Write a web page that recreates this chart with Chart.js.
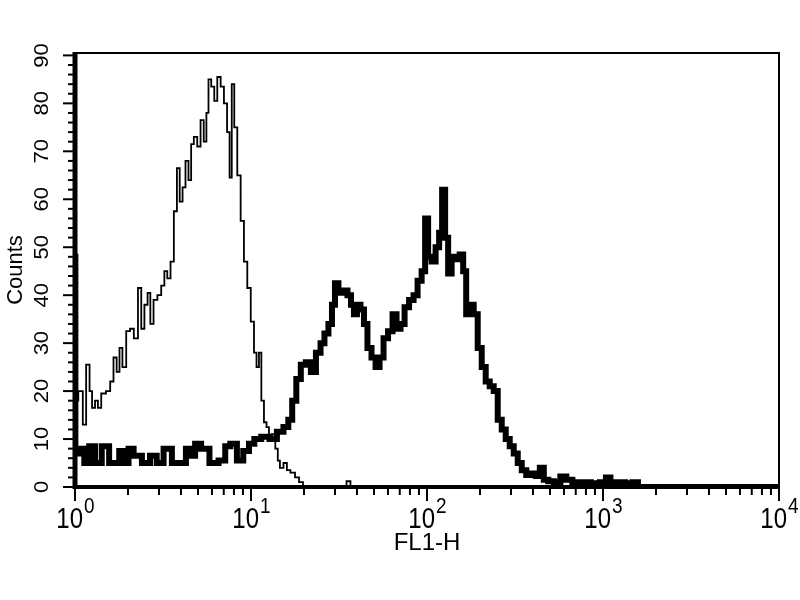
<!DOCTYPE html>
<html lang="en">

<head>
  <meta charset="UTF-8">
  <title>FL1-H histogram</title>
  <script src="https://cdn.jsdelivr.net/npm/chart.js"></script>
  <style>
    body { margin: 0; background: #fff; }
    canvas { display: block; }
  </style>
</head>

<body>
  <canvas id="histChart" width="800" height="600"></canvas>

<script>
  // control (thin line): FL1-H value / counts
  const controlFl1 = [1.00, 1.09, 1.125, 1.19, 1.23, 1.27, 1.33, 1.37, 1.45, 1.55, 1.62, 1.69, 1.76, 1.82, 1.90,
    2.01, 2.10, 2.22, 2.34, 2.42, 2.54, 2.63, 2.73, 2.86, 3.02, 3.16, 3.28, 3.41, 3.57, 3.72, 3.87, 4.00, 4.17,
    4.32, 4.51, 4.63, 4.84, 5.06, 5.28, 5.50, 5.66, 5.81, 6.08, 6.29, 6.58, 6.87, 7.17, 7.46, 7.65, 7.90, 8.17,
    8.55, 8.92, 9.32, 9.74, 10.2, 10.6, 10.9, 11.3, 11.6, 12.1, 12.4, 12.9, 13.4, 14.1, 14.3, 14.9, 15.7, 16.3,
    17.2, 18.4, 19.1, 20.4, 34.0, 35.8, 37.7, 10000];
  const controlCounts = [18, 20, 13, 25.5, 20, 16.5, 18, 16.5, 19.5, 20, 22, 27, 24, 29, 25,
    32.5, 33, 31, 41.5, 33, 38, 40.5, 34, 39, 40, 42, 45, 43.5, 47, 57.5, 66.5, 59.5, 62.5,
    68, 64, 71.5, 73, 71, 76.5, 72, 78, 85, 83.5, 80.5, 85.5, 83.5, 80, 74, 64.5, 84, 75,
    65, 55.5, 47, 41.5, 34.5, 28, 25, 28, 18, 13.5, 12.5, 10, 11, 8, 5.5, 4, 5, 3.5,
    3, 2, 1, 0, 0, 1.2, 0, 0];

  // stained sample (thick line)
  const stainedFl1 = [1.00, 1.01, 1.04, 1.09, 1.17, 1.24, 1.36, 1.48, 1.65, 1.73, 1.84, 1.97, 2.06, 2.25, 2.56,
    2.78, 3.05, 3.33, 3.79, 4.13, 4.41, 4.70, 4.93, 5.50, 6.13, 6.98, 7.30, 7.96, 8.69, 9.40, 10.1, 10.8, 12.1,
    13.4, 14.7, 15.9, 16.7, 17.6, 18.6, 19.8, 21.2, 22.6, 24.2, 25.5, 26.8, 28.3, 29.4, 30.6, 32.2, 34.4, 36.3,
    37.7, 39.2, 40.8, 43.0, 44.7, 47.1, 49.7, 52.4, 55.2, 58.1, 62.1, 65.4, 68.9, 72.6, 76.6, 81.7, 86.1, 90.8,
    95.7, 99.5, 103.5, 109, 114.9, 119.5, 124.3, 129.3, 134.5, 141.7, 149.4, 157.4, 163.7, 170.3, 179.5, 189.1,
    199.3, 210, 221.3, 233.2, 245.7, 259, 272.9, 287.5, 303, 319.3, 336.5, 354.6, 378.7, 404.3, 426.1, 449.1,
    473.2, 505.4, 546.7, 599.2, 639.7, 701.2, 799.1, 911, 1012, 1067, 1139, 1265, 1404, 1539, 1622, 10000];
  const stainedCounts = [48, 7, 7, 8, 5, 8.5, 5, 8.5, 5, 5, 7.5, 5, 8, 6.5, 5,
    6.5, 5, 8, 5, 5, 8, 6.5, 9, 8, 5, 5.5, 8.5, 9, 5.5, 7.5, 9, 10, 10.5,
    10, 11.5, 12.5, 14, 18, 22.5, 25.5, 26, 24, 28, 30, 32, 34, 38, 42.5, 40.5, 41, 40,
    38, 36, 38, 37, 34, 29, 27, 25, 27, 31, 32.5, 36, 33, 34, 37.5, 39, 40, 43,
    45, 56, 48, 47, 50, 53, 62, 52, 44.5, 48, 47.5, 48.5, 45, 36, 38, 36,
    29, 25, 22, 21, 20, 14, 12, 10, 8.5, 7, 5, 3.5, 2.5, 2.8, 2.3, 4,
    1.5, 1.2, 1, 2.2, 1.5, 1, 1, 0.8, 1, 2, 1, 1, 0.8, 1, 0, 0];

  const decadeLabels = ['0', '1', '2', '3', '4'];
  const countTicks = [0, 10, 20, 30, 40, 50, 60, 70, 80, 90];

  const fontFamily = '"Liberation Sans", Arial, sans-serif';

  function toPoints(xs, ys) {
    return xs.map((x, i) => ({ x: x, y: ys[i] }));
  }

  // frame, tick marks and tick labels, drawn from the chart's own scales
  const facsAxes = {
    id: 'facsAxes',
    afterDraw(chart) {
      const { ctx, chartArea: a, scales } = chart;
      const x = scales.x, y = scales.y;
      ctx.save();
      ctx.strokeStyle = '#000';
      ctx.fillStyle = '#000';
      ctx.lineCap = 'butt';

      ctx.lineWidth = 2;
      ctx.beginPath();
      ctx.moveTo(a.left, a.top);
      ctx.lineTo(a.right, a.top);
      ctx.lineTo(a.right, a.bottom);
      ctx.stroke();

      ctx.lineWidth = 5;
      ctx.beginPath();
      ctx.moveTo(a.left, a.top - 1);
      ctx.lineTo(a.left, a.bottom + 2);
      ctx.stroke();
      ctx.lineWidth = 4;
      ctx.beginPath();
      ctx.moveTo(a.left - 2, a.bottom);
      ctx.lineTo(a.right + 1, a.bottom);
      ctx.stroke();

      // y ticks every 2 counts, long ones every 10
      ctx.lineWidth = 2;
      for (let v = 0; v <= 90; v += 2) {
        const py = y.getPixelForValue(v);
        const len = v % 10 === 0 ? 10 : 5;
        ctx.beginPath();
        ctx.moveTo(a.left - 2, py);
        ctx.lineTo(a.left - 2 - len, py);
        ctx.stroke();
      }

      // x ticks at 1..9 of each decade
      for (let d = 0; d < 4; d++) {
        for (let k = 1; k <= 9; k++) {
          const px = x.getPixelForValue(k * Math.pow(10, d));
          const len = k === 1 ? 12 : 6;
          ctx.beginPath();
          ctx.moveTo(px, a.bottom + 2);
          ctx.lineTo(px, a.bottom + 2 + len);
          ctx.stroke();
        }
      }
      const pEnd = x.getPixelForValue(10000);
      ctx.beginPath();
      ctx.moveTo(pEnd, a.bottom + 2);
      ctx.lineTo(pEnd, a.bottom + 14);
      ctx.stroke();

      // y labels, rotated
      ctx.font = '20px ' + fontFamily;
      ctx.textAlign = 'center';
      ctx.textBaseline = 'middle';
      countTicks.forEach(v => {
        const py = y.getPixelForValue(v);
        ctx.save();
        ctx.translate(42, py);
        ctx.rotate(-Math.PI / 2);
        ctx.scale(1.1, 1);
        ctx.fillText(String(v), 0, 0);
        ctx.restore();
      });

      // x labels 10 with superscript exponent (type is a bit tall, like the source plot)
      ctx.textAlign = 'left';
      ctx.textBaseline = 'alphabetic';
      decadeLabels.forEach((e, i) => {
        const px = x.getPixelForValue(Math.pow(10, i));
        ctx.font = '24px ' + fontFamily;
        const wBase = ctx.measureText('10').width;
        ctx.font = '19px ' + fontFamily;
        const wExp = ctx.measureText(e).width;
        const start = px - (wBase + wExp) / 2;
        ctx.save();
        ctx.translate(start, 528);
        ctx.scale(1, 1.2);
        ctx.font = '24px ' + fontFamily;
        ctx.fillText('10', 0, 0);
        ctx.font = '19px ' + fontFamily;
        ctx.fillText(e, wBase + 1, -12.5);
        ctx.restore();
      });
      ctx.restore();
    }
  };

  const ctx = document.getElementById('histChart');

  const histChart = new Chart(ctx, {
    type: 'line',
    data: {
      datasets: [
        {
          label: 'Control',
          data: toPoints(controlFl1, controlCounts),
          borderColor: '#000',
          borderWidth: 1.8,
          stepped: 'middle',
          pointRadius: 0,
          fill: false
        },
        {
          label: 'Stained',
          data: toPoints(stainedFl1, stainedCounts),
          borderColor: '#000',
          borderWidth: 6,
          stepped: 'middle',
          pointRadius: 0,
          fill: false
        }
      ]
    },
    options: {
      responsive: false,
      animation: false,
      layout: {
        padding: { top: 53, right: 21, left: 0, bottom: 0 }
      },
      plugins: {
        legend: { display: false },
        tooltip: { enabled: false }
      },
      scales: {
        x: {
          type: 'logarithmic',
          min: 1,
          max: 10000,
          grid: { display: false },
          border: { display: false },
          ticks: { display: false },
          title: {
            display: true,
            text: 'FL1-H',
            color: '#000',
            font: { family: fontFamily, size: 24 },
            padding: { top: 0, bottom: 42 }
          },
          afterFit: function(scale) { scale.height = 113; }
        },
        y: {
          min: 0,
          max: 90.5,
          grid: { display: false },
          border: { display: false },
          ticks: { display: false },
          title: {
            display: true,
            text: 'Counts',
            color: '#000',
            font: { family: fontFamily, size: 22 },
            padding: { top: 3, bottom: 0 }
          },
          afterFit: function(scale) { scale.width = 75; }
        }
      }
    },
    plugins: [facsAxes]
  });
</script>
</body>

</html>
